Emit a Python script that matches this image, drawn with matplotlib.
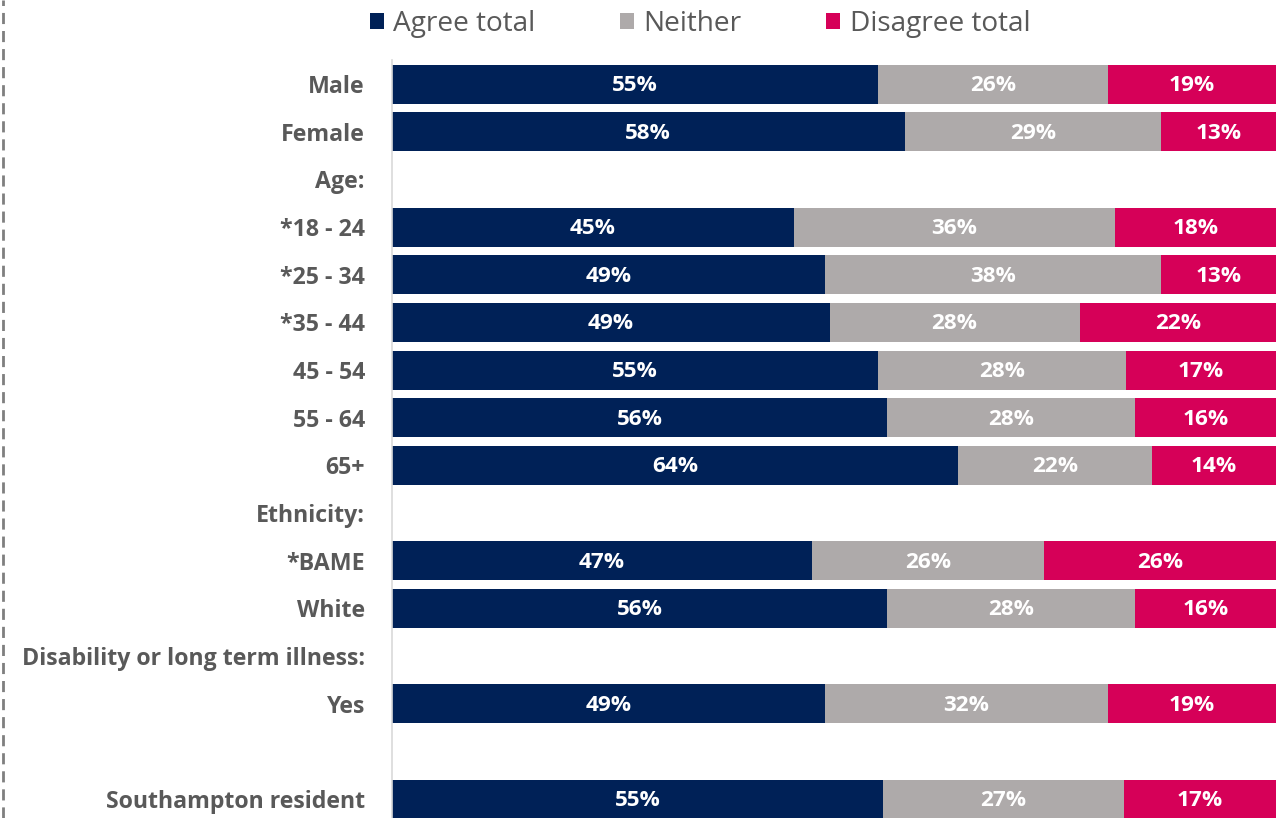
import numpy as np
import matplotlib.pyplot as plt
from matplotlib.patches import Patch
from matplotlib.lines import Line2D

plt.rcParams['font.family'] = ['Open Sans', 'DejaVu Sans']

# rows from top to bottom; empty entries are heading / spacer rows
labels = ['Male', 'Female', 'Age:', '*18 - 24', '*25 - 34', '*35 - 44', '45 - 54',
          '55 - 64', '65+', 'Ethnicity:', '*BAME', 'White',
          'Disability or long term illness:', 'Yes', '', 'Southampton resident']
agree = [55, 58, None, 45, 49, 49, 55, 56, 64, None, 47, 56, None, 49, None, 55]
neither = [26, 29, None, 36, 38, 28, 28, 28, 22, None, 26, 28, None, 32, None, 27]
disagree = [19, 13, None, 18, 13, 22, 17, 16, 14, None, 26, 16, None, 19, None, 17]

series = ['Agree total', 'Neither', 'Disagree total']
colors = ['#002157', '#AEAAAA', '#D60058']
text_grey = '#595959'

fig = plt.figure(figsize=(12.76, 8.18), dpi=100)
ax = fig.add_axes([392 / 1276, -5 / 818, 884 / 1276, 762.7 / 818])

y = np.arange(len(labels))
for i in y:
    if agree[i] is None:
        continue
    vals = [agree[i], neither[i], disagree[i]]
    total = sum(vals)
    left = 0
    for v, c in zip(vals, colors):
        w = v / total * 100
        ax.barh(i, w, left=left, height=0.82, color=c)
        ax.text(left + w / 2, i + 0.03, f'{v}%', ha='center', va='center',
                color='white', fontsize=16.2, fontweight='bold')
        left += w

ax.set_xlim(0, 100)
ax.set_ylim(len(labels) - 0.5, -0.5)
ax.set_yticks(y)
ax.set_yticklabels(labels, fontsize=16.7, fontweight='bold', color=text_grey)
ax.tick_params(axis='y', length=0, pad=19.5)
ax.set_xticks([])
for s in ['top', 'right', 'bottom']:
    ax.spines[s].set_visible(False)
ax.spines['left'].set_color('#D9D9D9')
ax.spines['left'].set_linewidth(1.2)

handles = [Patch(facecolor=c, edgecolor='none') for c in colors]
fig.legend(handles, series, loc='center', bbox_to_anchor=(700 / 1276, 1 - 24 / 818),
           ncol=3, frameon=False, fontsize=20.2, labelcolor=text_grey,
           handlelength=0.5, handleheight=0.5, handletextpad=0.35, columnspacing=3.0)

# dashed border along the left edge
fig.add_artist(Line2D([3 / 1276, 3 / 1276], [0, 1], color='#7F7F7F', lw=2,
                      linestyle=(0, (4, 2.5)), transform=fig.transFigure))

fig.savefig('out.png', dpi=100)
